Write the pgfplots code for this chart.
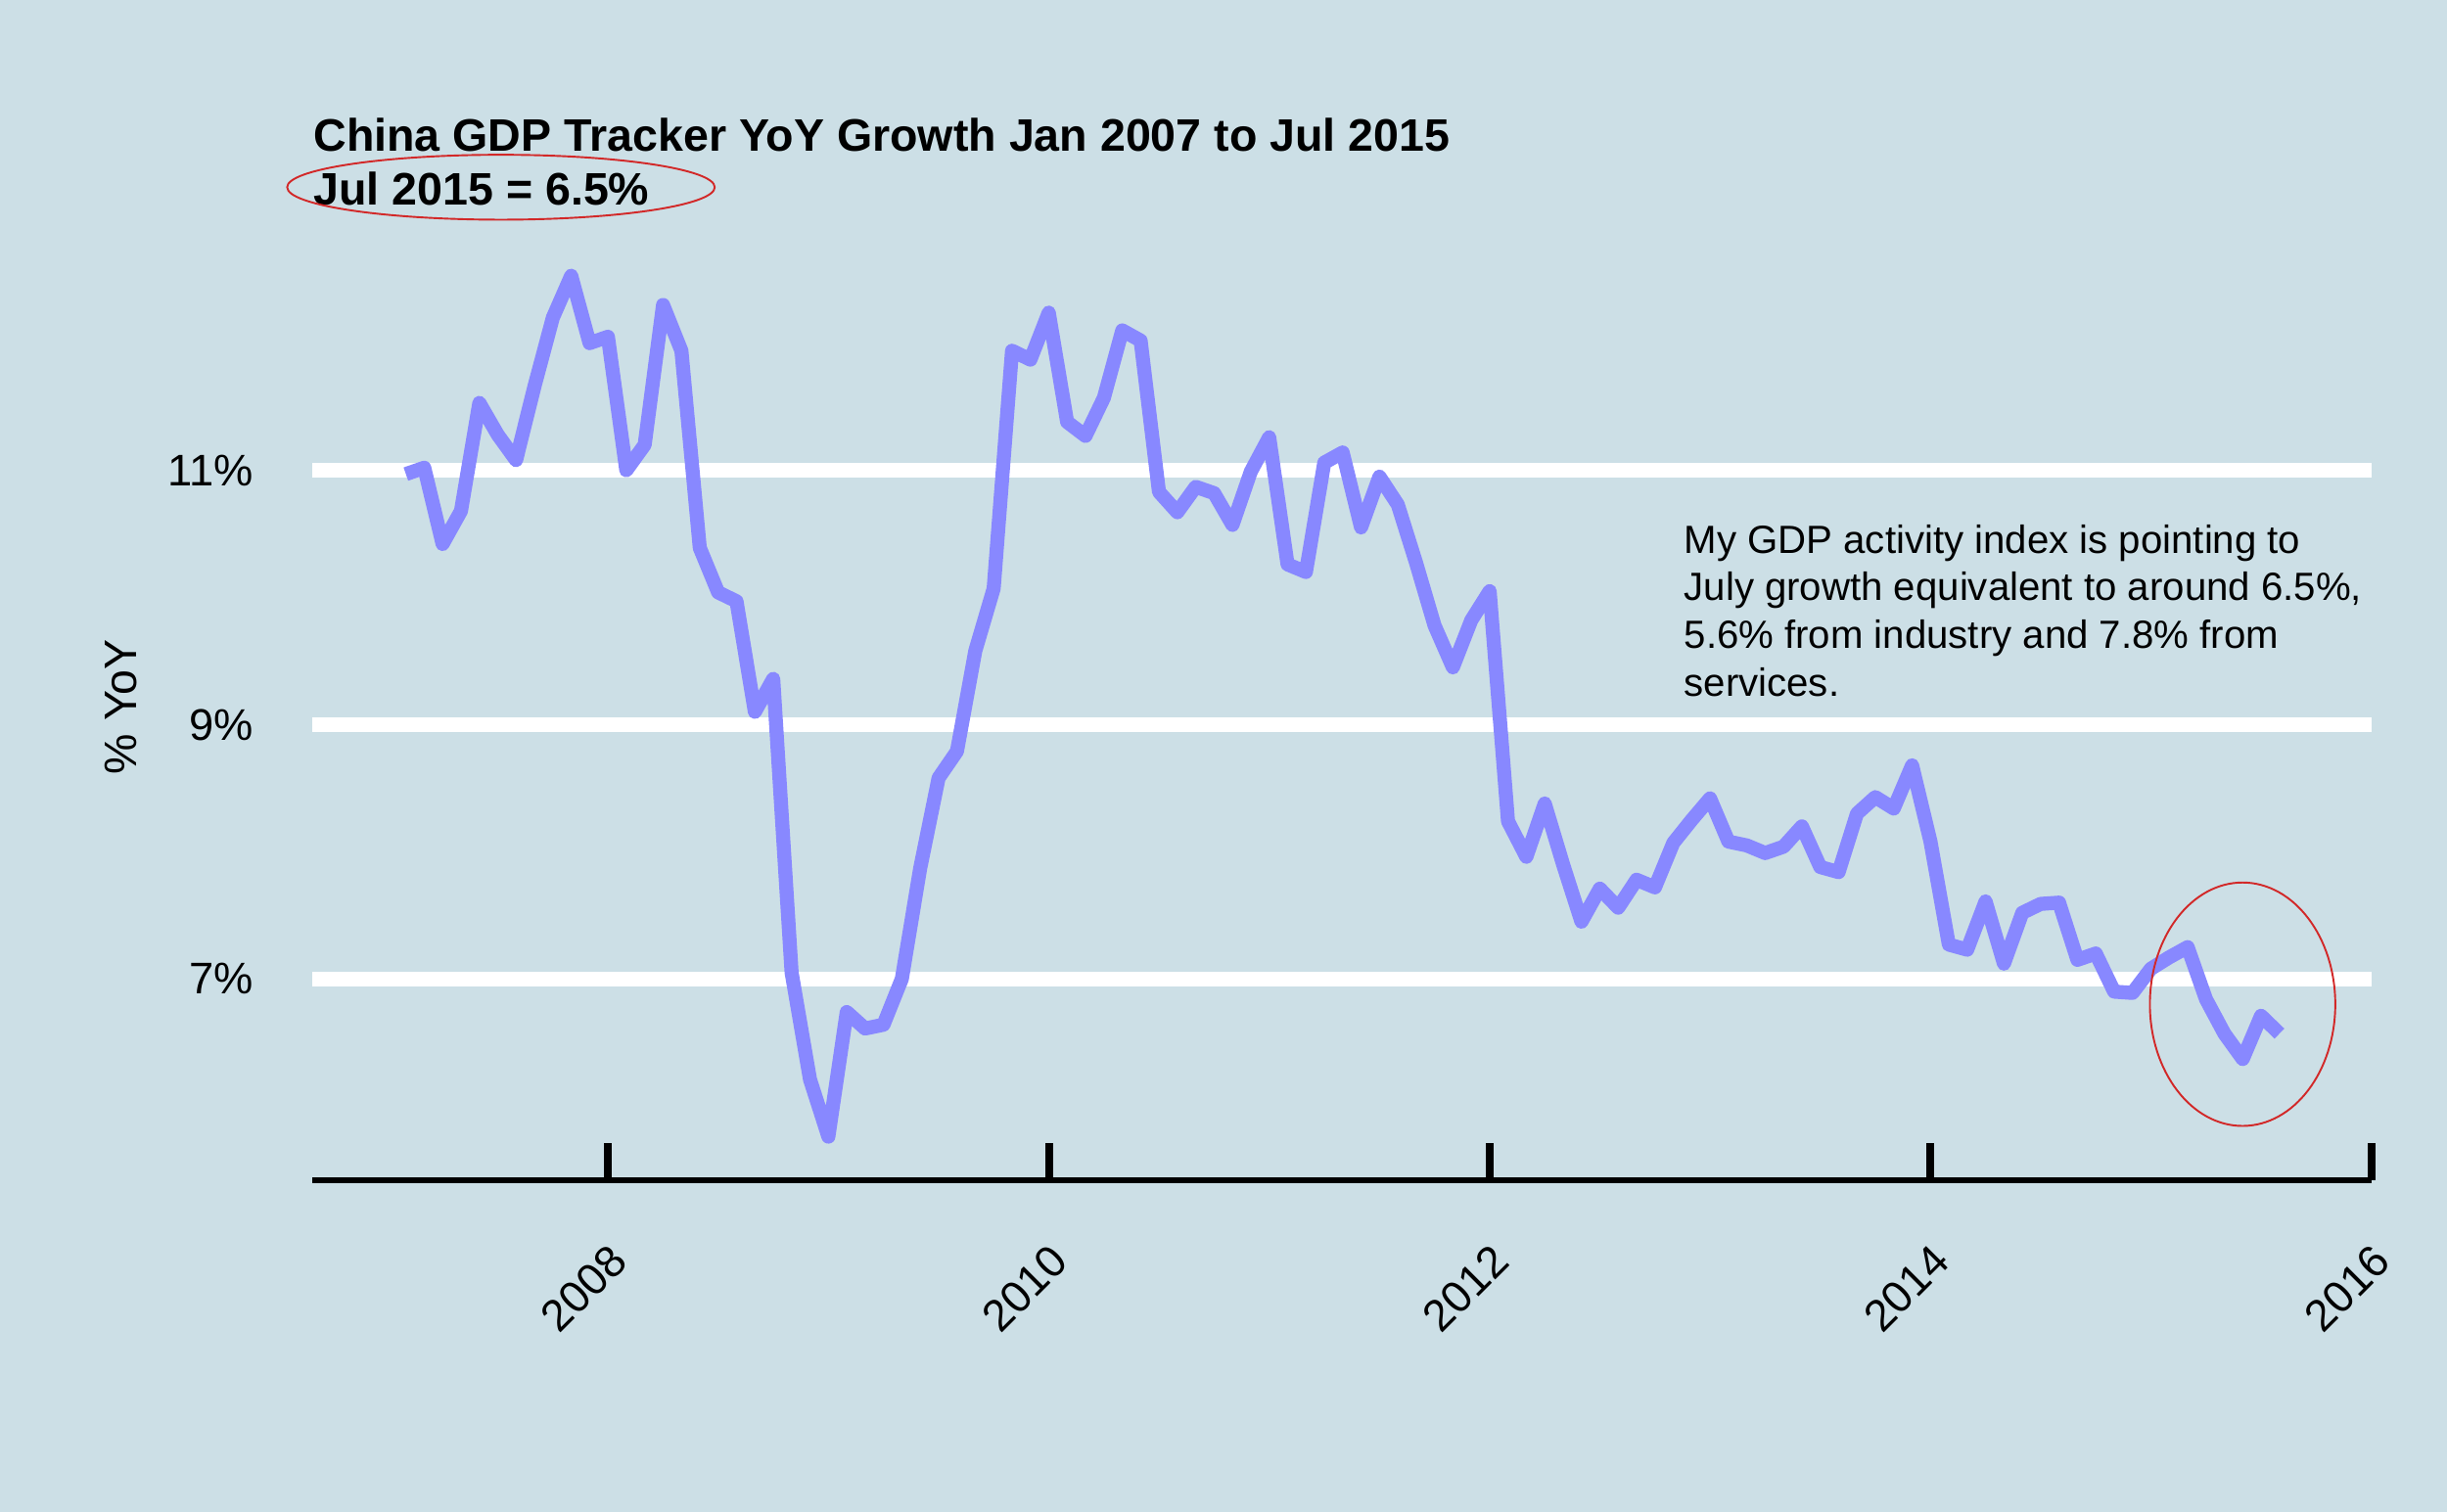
\documentclass[border=0pt]{standalone}
\usepackage{pgfplots}
\pgfplotsset{compat=1.18}
\usepackage{pgfplotstable}
\usepackage{fontspec}
\setmainfont{Liberation Sans}
\definecolor{bg}{RGB}{204,223,230}
\definecolor{gdp}{RGB}{136,136,255}
\definecolor{circ}{RGB}{210,40,40}

\pgfplotstableread{
k v
0 10.97
1 11.02
2 10.42
3 10.68
4 11.53
5 11.28
6 11.08
7 11.66
8 12.20
9 12.53
10 12.00
11 12.05
12 11.00
13 11.20
14 12.30
15 11.94
16 10.39
17 10.04
18 9.97
19 9.10
20 9.36
21 7.05
22 6.21
23 5.76
24 6.74
25 6.61
26 6.64
27 7.00
28 7.87
29 8.58
30 8.79
31 9.58
32 10.07
33 11.94
34 11.87
35 12.24
36 11.38
37 11.27
38 11.57
39 12.10
40 12.02
41 10.83
42 10.67
43 10.87
44 10.82
45 10.57
46 10.99
47 11.26
48 10.26
49 10.20
50 11.06
51 11.14
52 10.55
53 10.95
54 10.73
55 10.27
56 9.78
57 9.45
58 9.82
59 10.05
60 8.24
61 7.96
62 8.38
63 7.90
64 7.45
65 7.71
66 7.56
67 7.78
68 7.72
69 8.07
70 8.25
71 8.42
72 8.08
73 8.05
74 7.99
75 8.04
76 8.20
77 7.88
78 7.84
79 8.30
80 8.43
81 8.34
82 8.68
83 8.08
84 7.27
85 7.23
86 7.61
87 7.12
88 7.52
89 7.59
90 7.60
91 7.15
92 7.20
93 6.90
94 6.89
95 7.08
96 7.17
97 7.25
98 6.84
99 6.57
100 6.37
101 6.71
102 6.57
}\gdpdata

\begin{document}
\begin{tikzpicture}
\path[fill=bg, use as bounding box] (0,0) rectangle (784bp,484.5bp);
\begin{axis}[
  at={(100.15bp,106.3bp)}, anchor=south west,
  scale only axis, width=659.6bp, height=300.85bp,
  xmin=2006.66, xmax=2016, ymin=5.417, ymax=12.8,
  axis x line*=bottom, axis y line*=left,
  y axis line style={draw=none},
  x axis line style={line width=2.1bp, black, -},
  xtick={2008,2010,2012,2014,2016},
  xticklabels={2008,2010,2012,2014,2016},
  ytick={7,9,11},
  yticklabels={7\%,9\%,11\%},
  xtick style={line width=2.5bp, black},
  ytick style={draw=none},
  major tick length=12bp,
  tick align=inside,
  ymajorgrids,
  grid style={white, line width=4.7bp},
  xticklabel style={font=\fontsize{14.2bp}{17bp}\selectfont, xshift=-7.75bp, yshift=-34.65bp, rotate=45, anchor=center},
  yticklabel style={font=\fontsize{14.2bp}{17bp}\selectfont, inner sep=0pt, anchor=east, xshift=-18.9bp},
]
\addplot[gdp, line width=4.5bp, line join=round, line cap=butt] table[x expr={2007+(\thisrow{k}+1)/12}, y=v] {\gdpdata};
\end{axis}
\node[rotate=90, inner sep=0pt, font=\fontsize{14.6bp}{17bp}\selectfont] at (38.65bp,258bp) {\% YoY};
\node[anchor=base west, inner sep=0pt, font=\bfseries\fontsize{14.6bp}{17bp}\selectfont] at (100.3bp,435.9bp) {China GDP Tracker YoY Growth Jan 2007 to Jul 2015};
\node[anchor=base west, inner sep=0pt, font=\bfseries\fontsize{14.6bp}{17bp}\selectfont] at (100.3bp,418.65bp) {Jul 2015 = 6.5\%};
\begin{scope}[every node/.style={anchor=base west, inner sep=0pt, font=\fontsize{12.6bp}{15bp}\selectfont}]
\node at (539.4bp,307.3bp) {My GDP activity index is pointing to};
\node at (539.4bp,291.95bp) {July growth equivalent to around 6.5\%,};
\node at (539.4bp,276.6bp) {5.6\% from industry and 7.8\% from};
\node at (539.4bp,261.25bp) {services.};
\end{scope}
\draw[circ, line width=0.6bp] (160.5bp,424.5bp) ellipse [x radius=68.5bp, y radius=10.4bp];
\draw[circ, line width=0.6bp] (718.5bp,162.7bp) ellipse [x radius=29.7bp, y radius=39bp];
\end{tikzpicture}
\end{document}
